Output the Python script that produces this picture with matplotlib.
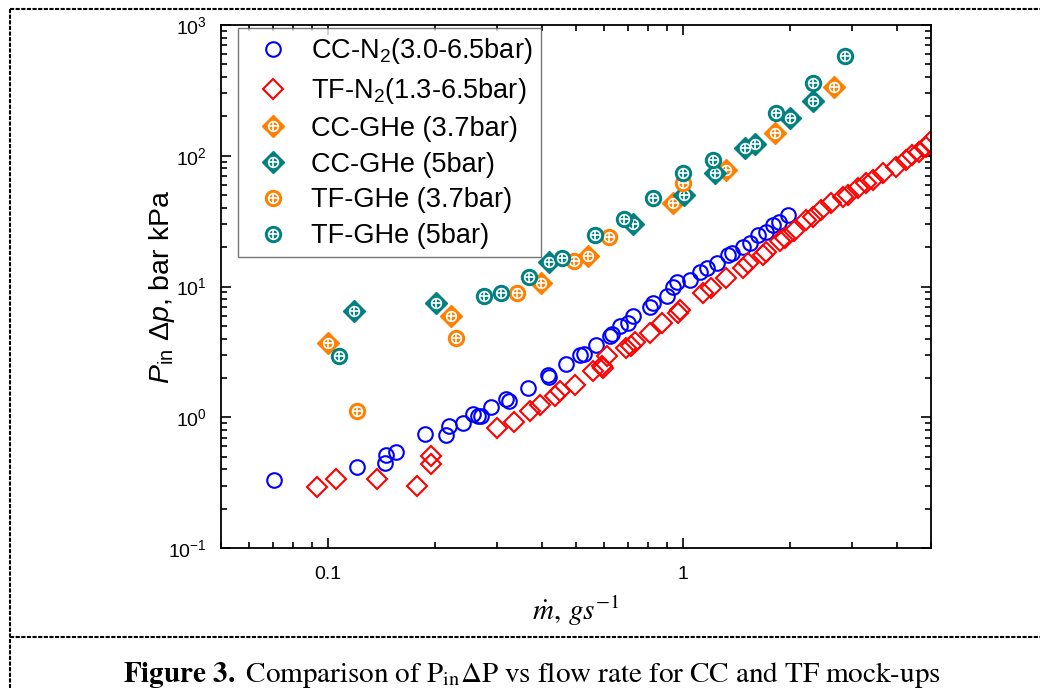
import numpy as np
import matplotlib
matplotlib.use("Agg")
import matplotlib.pyplot as plt
from matplotlib.lines import Line2D
from matplotlib.legend_handler import HandlerTuple
from matplotlib.ticker import LogLocator, LogFormatterSciNotation, FixedLocator, FixedFormatter

plt.rcParams['font.family'] = 'Liberation Sans'
plt.rcParams['mathtext.fontset'] = 'custom'
plt.rcParams['mathtext.rm'] = 'Liberation Sans'
plt.rcParams['mathtext.it'] = 'Liberation Sans:italic'
plt.rcParams['mathtext.bf'] = 'Liberation Sans:bold'

# CC mock-up, N2
cc_n2_x = [0.0707, 0.1206, 0.1446, 0.1462, 0.1553, 0.1877, 0.2149, 0.2197, 0.2395, 0.2567,
           0.2644, 0.2697, 0.2888, 0.3167, 0.323, 0.3653, 0.4168, 0.4204, 0.468, 0.514,
           0.525, 0.570, 0.624, 0.632, 0.665, 0.70, 0.725, 0.808, 0.826, 0.900,
           0.939, 0.960, 1.047, 1.116, 1.166, 1.244, 1.34, 1.371, 1.477, 1.542,
           1.628, 1.718, 1.793, 1.862, 1.976]
cc_n2_y = [0.330, 0.415, 0.449, 0.510, 0.541, 0.751, 0.738, 0.854, 0.906, 1.067,
           1.018, 1.03, 1.20, 1.38, 1.34, 1.68, 2.12, 2.04, 2.56, 3.0,
           3.05, 3.59, 4.20, 4.35, 5.0, 5.3, 5.90, 7.03, 7.47, 8.39,
           10.0, 10.9, 11.25, 13.0, 13.8, 15.1, 17.5, 18.0, 20.2, 21.4,
           24.8, 26.3, 29.6, 31.2, 35.3]

# TF mock-up, N2
tf_n2_x = [0.0931, 0.1053, 0.1373, 0.178, 0.1947, 0.195, 0.2997, 0.334, 0.372, 0.397,
           0.437, 0.451, 0.497, 0.560, 0.591, 0.597, 0.610, 0.69, 0.713, 0.735,
           0.808, 0.871, 0.970, 0.981, 1.14, 1.204, 1.327, 1.477, 1.526, 1.68,
           1.718, 1.872, 1.935, 2.06, 2.225, 2.323, 2.452, 2.616, 2.82, 2.912,
           3.107, 3.28, 3.425, 3.654, 3.98, 4.25, 4.43, 4.63, 4.84, 4.98]
tf_n2_y = [0.292, 0.335, 0.339, 0.296, 0.504, 0.436, 0.830, 0.916, 1.125, 1.25,
           1.46, 1.58, 1.78, 2.27, 2.48, 2.38, 2.92, 3.36, 3.53, 3.75,
           4.41, 5.26, 6.27, 6.64, 8.91, 9.72, 11.6, 13.8, 15.1, 17.5,
           18.5, 22.1, 23.4, 26.7, 32.3, 34.2, 38.5, 43.3, 48.7, 50.1,
           56.4, 61.5, 65.3, 73.4, 82.4, 92.7, 101, 107, 117, 128]

# helium
cc_ghe37_x = [0.100, 0.222, 0.398, 0.542, 0.935, 1.327, 1.813, 2.673]
cc_ghe37_y = [3.70, 5.90, 10.7, 17.2, 43.3, 77.8, 150, 336]
cc_ghe5_x = [0.1185, 0.201, 0.421, 0.725, 1.007, 1.23, 1.493, 1.593, 1.999, 2.323]
cc_ghe5_y = [6.45, 7.47, 15.3, 30.1, 50.1, 73.4, 114, 123, 195, 263]
tf_ghe37_x = [0.1206, 0.230, 0.340, 0.495, 0.621, 1.002]
tf_ghe37_y = [1.11, 4.04, 8.91, 15.8, 24.1, 61.5]
tf_ghe5_x = [0.1076, 0.275, 0.307, 0.368, 0.456, 0.566, 0.683, 0.826, 0.998, 1.217, 1.825, 2.323, 2.87]
tf_ghe5_y = [2.96, 8.49, 8.91, 11.9, 16.5, 24.8, 32.7, 47.3, 73.4, 92.7, 213, 361, 577]

labels = [r'CC-N$_2$(3.0-6.5bar)', r'TF-N$_2$(1.3-6.5bar)', 'CC-GHe (3.7bar)',
          'CC-GHe (5bar)', 'TF-GHe (3.7bar)', 'TF-GHe (5bar)']

ORANGE = '#FF8000'
TEAL = '#008080'


def ghe_plot(ax, x, y, marker, color, ms, inner):
    """filled marker with a white crossed ring on top"""
    base, = ax.plot(x, y, ls='none', marker=marker, ms=ms, mfc=color, mec=color, mew=1)
    ring, = ax.plot(x, y, ls='none', marker='o', ms=inner, mfc='none', mec='white', mew=1.2)
    cross, = ax.plot(x, y, ls='none', marker='+', ms=inner, mec='white', mew=1.2)
    return (base, ring, cross)


fig = plt.figure(figsize=(10.4, 6.88), dpi=100)
ax = fig.add_axes([221 / 1040, 1 - 548 / 688, 710 / 1040, 523 / 688])

h1, = ax.plot(cc_n2_x, cc_n2_y, ls='none', marker='o', ms=10.5, mfc='none', mec='#0000FF', mew=1.5)
h2, = ax.plot(tf_n2_x, tf_n2_y, ls='none', marker='D', ms=10, mfc='none', mec='#FF0000', mew=1.5)
h3 = ghe_plot(ax, cc_ghe37_x, cc_ghe37_y, 'D', ORANGE, 11.5, 7)
h4 = ghe_plot(ax, cc_ghe5_x, cc_ghe5_y, 'D', TEAL, 11.5, 7)
h5 = ghe_plot(ax, tf_ghe37_x, tf_ghe37_y, 'o', ORANGE, 11.5, 7)
h6 = ghe_plot(ax, tf_ghe5_x, tf_ghe5_y, 'o', TEAL, 11.5, 7)

ax.set_xscale('log')
ax.set_yscale('log')
ax.set_xlim(0.05, 5)
ax.set_ylim(0.1, 1000)

ax.xaxis.set_major_locator(FixedLocator([0.1, 1]))
ax.xaxis.set_major_formatter(FixedFormatter(['0.1', '1']))
ax.xaxis.set_minor_locator(LogLocator(base=10, subs=np.arange(2, 10)))
ax.xaxis.set_minor_formatter(plt.NullFormatter())
ax.yaxis.set_major_locator(LogLocator(base=10, numticks=10))
ax.yaxis.set_major_formatter(LogFormatterSciNotation())
ax.yaxis.set_minor_locator(LogLocator(base=10, subs=np.arange(2, 10), numticks=10))

ax.tick_params(which='both', direction='in', top=True, right=True, width=1.2, labelsize=14)
ax.tick_params(which='major', length=7, pad=10)
ax.tick_params(axis='x', which='major', pad=13)
ax.tick_params(which='minor', length=4)
for s in ax.spines.values():
    s.set_linewidth(1.3)

ax.set_ylabel(r'$P_{\rm in}\ \Delta p$, bar kPa', fontsize=20.5)
ax.yaxis.set_label_coords(-0.062, 0.5)
ax.set_xlabel(r'$\dot{m},\, gs^{-1}$', fontsize=21, math_fontfamily='stix')
ax.xaxis.set_label_coords(0.5, -0.12)
ax.xaxis.label.set_verticalalignment('center')

leg = ax.legend([h1, h2, h3, h4, h5, h6], labels, loc='upper left',
                bbox_to_anchor=(0.024, 0.994), fontsize=19.5, frameon=True, fancybox=False,
                handler_map={tuple: HandlerTuple(ndivide=1)}, numpoints=1,
                labelspacing=0.36, handletextpad=0.4, borderpad=0.3, borderaxespad=0)
leg.get_frame().set_edgecolor('#555555')
leg.get_frame().set_linewidth(1.0)

# dashed page frame
dash = (0, (2.0, 0.7))
W, H = 1040, 688
for xs, ys in [([10, W], [9, 9]), ([10, 10], [9, H]), ([10, W], [637, 637])]:
    fig.add_artist(Line2D([x / W for x in xs], [1 - y / H for y in ys], color='black',
                          lw=1.5, linestyle=dash, transform=fig.transFigure))

caption = (r'$\mathbf{Figure\ 3.}\ \mathrm{Comparison\ of\ P_{in}\Delta P\ vs\ flow\ rate'
           r'\ for\ CC\ and\ TF\ mock\text{-}ups}$')
fig.text(532 / W, 1 - 675 / H, caption, ha='center', va='center', fontsize=21,
         math_fontfamily='stix')

fig.savefig('out.png', dpi=100)
